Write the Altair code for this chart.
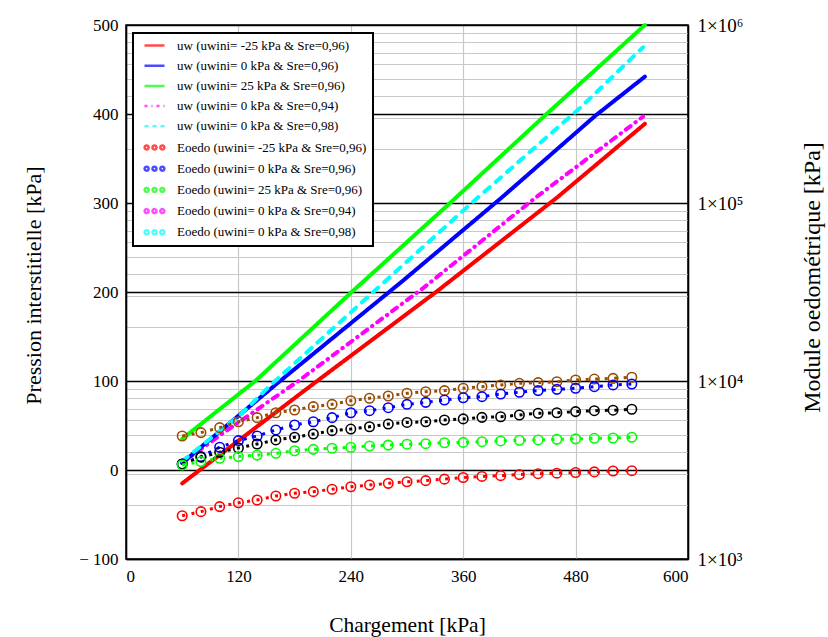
import altair as alt
import pandas as pd

# ---------------- data ----------------
LEGEND_LABELS = [
    "uw (uwini= -25 kPa & Sre=0,96)",
    "uw (uwini= 0 kPa & Sre=0,96)",
    "uw (uwini= 25 kPa & Sre=0,96)",
    "uw (uwini= 0 kPa & Sre=0,94)",
    "uw (uwini= 0 kPa & Sre=0,98)",
    "Eoedo (uwini= -25 kPa & Sre=0,96)",
    "Eoedo (uwini= 0 kPa & Sre=0,96)",
    "Eoedo (uwini= 25 kPa & Sre=0,96)",
    "Eoedo (uwini= 0 kPa & Sre=0,94)",
    "Eoedo (uwini= 0 kPa & Sre=0,98)",
]
LEGEND_COLORS = ["#ff0000", "#0000ff", "#00ff00", "#ff00ff", "#00ffff",
                 "#ff0000", "#0000ff", "#00ff00", "#ff00ff", "#00ffff"]

# pore pressure uw [kPa] vs loading [kPa]
UW_RED_X = [60, 204, 331, 460, 554]
UW_RED_Y = [-15, 100, 200, 306, 389]
UW_BLUE_X = [60, 161, 296, 401, 501, 554]
UW_BLUE_Y = [8, 97, 213, 306, 398, 442]
UW_GREEN_X = [60, 138, 241, 346, 449, 554]
UW_GREEN_Y = [35, 100, 200, 300, 400, 500]
UW_MAGENTA_X = [60, 103, 184, 318, 436, 552]
UW_MAGENTA_Y = [8, 41, 100, 205, 305, 397]
UW_CYAN_X = [60, 122, 155, 264, 369, 485, 552]
UW_CYAN_Y = [10, 62, 96, 200, 300, 407, 475]

# oedometric modulus Eoedo [kPa] vs loading [kPa]
E_X = [60, 80, 100, 120, 140, 160, 180, 200, 220, 240, 260, 280, 300,
       320, 340, 360, 380, 400, 420, 440, 460, 480, 500, 520, 540]
E_BROWN = [4910, 5130, 5470, 5900, 6225, 6635, 6870, 7180, 7395, 7745, 8000, 8240, 8530,
           8710, 8830, 9100, 9290, 9505, 9705, 9795, 9910, 10140, 10255, 10350, 10495]
E_BLUE = [3420, 3760, 4245, 4625, 4910, 5310, 5660, 5900, 6225, 6635, 6810, 7080, 7395,
          7585, 7815, 8055, 8165, 8455, 8650, 8830, 8975, 9100, 9290, 9505, 9615]
E_BLACK = [3420, 3735, 3980, 4205, 4425, 4665, 4830, 5035, 5260, 5370, 5535, 5730, 5850,
           5900, 6040, 6125, 6250, 6295, 6440, 6590, 6635, 6730, 6810, 6855, 6935]
E_GREEN = [3375, 3525, 3680, 3760, 3835, 3925, 4055, 4130, 4190, 4245, 4315, 4365, 4415,
           4445, 4500, 4520, 4560, 4605, 4645, 4665, 4700, 4730, 4765, 4785, 4830]
E_RED = [1750, 1845, 1970, 2070, 2145, 2260, 2340, 2390, 2465, 2545, 2605, 2660, 2715,
         2755, 2810, 2870, 2910, 2940, 2980, 3015, 3035, 3060, 3085, 3120, 3135]

X_TICKS = [0, 120, 240, 360, 480, 600]
Y_TICKS = [-100, 0, 100, 200, 300, 400, 500]
E_GRID = [1000, 2000, 3000, 4000, 5000, 6000, 7000, 8000, 9000,
          10000, 20000, 30000, 40000, 50000, 60000, 70000, 80000, 90000,
          100000, 200000, 300000, 400000, 500000, 600000, 700000, 800000, 900000, 1000000]

FONT = "Liberation Serif"

# ---------------- scales / axes ----------------
x_enc = alt.X(
    "x:Q",
    scale=alt.Scale(domain=[0, 600], nice=False, zero=False),
    axis=alt.Axis(values=X_TICKS, title="Chargement [kPa]", grid=True,
                  gridColor="#c8c8c8", gridWidth=1.2, ticks=False, titleFontSize=21.5,
                  labelPadding=9, titleX=281, titleY=66, titleBaseline="middle"),
)

left_axis = alt.Axis(
    values=Y_TICKS, title="Pression interstitielle [kPa]", grid=True,
    gridColor="black", gridWidth=1.3, ticks=False, labelPadding=8, titleFontSize=22,
    labelExpr="datum.value < 0 ? '\u2212 ' + abs(datum.value) : datum.label",
    titleX=-93, titleY=260, titleAngle=270, titleBaseline="middle",
)
y_left_scale = alt.Scale(domain=[-100, 500], nice=False, zero=False)

right_axis = alt.Axis(
    orient="right", values=E_GRID, title="Module oedométrique [kPa]", grid=True,
    gridColor={"condition": {"test": "abs(log(datum.value)/LN10 - round(log(datum.value)/LN10)) < 0.001",
                             "value": "black"}, "value": "#c8c8c8"},
    gridWidth=1.2, ticks=False, labelPadding=9, labelFontSize=19, titleFontSize=24,
    labelExpr="abs(log(datum.value)/LN10 - round(log(datum.value)/LN10)) < 0.001 ? "
              "'1\u00d710' + ['\u2070','\u00b9','\u00b2','\u00b3','\u2074','\u2075','\u2076'][round(log(datum.value)/LN10)] : ''",
    titleX=124, titleY=252, titleAngle=270, titleBaseline="middle",
)
y_right_scale = alt.Scale(type="log", domain=[1000, 1000000], nice=False)

# ---------------- uw lines ----------------
def uw_layer(xs, ys, color, dash):
    df = pd.DataFrame({"x": xs, "y": ys})
    return alt.Chart(df).mark_line(color=color, strokeWidth=4, strokeDash=dash,
                                   strokeCap="round").encode(
        x=x_enc, y=alt.Y("y:Q", scale=y_left_scale, axis=left_axis))

uw_layers = [
    uw_layer(UW_RED_X, UW_RED_Y, "#ff0000", [1, 0]),
    uw_layer(UW_MAGENTA_X, UW_MAGENTA_Y, "#ff00ff", [6, 6, 0.5, 6]),
    uw_layer(UW_BLUE_X, UW_BLUE_Y, "#0000ff", [1, 0]),
    uw_layer(UW_CYAN_X, UW_CYAN_Y, "#00ffff", [7, 8]),
    uw_layer(UW_GREEN_X, UW_GREEN_Y, "#00ff00", [1, 0]),
]

# legend-only layer (no rows drawn)
THREE_CIRCLES = ("M -1.17,0 A 0.4,0.4 0 1,1 -1.97,0 A 0.4,0.4 0 1,1 -1.17,0 Z "
                 "M 0.4,0 A 0.4,0.4 0 1,1 -0.4,0 A 0.4,0.4 0 1,1 0.4,0 Z "
                 "M 1.97,0 A 0.4,0.4 0 1,1 1.17,0 A 0.4,0.4 0 1,1 1.97,0 Z")
LINE_SYM = "M -2,0 L 2,0"
legend_df = pd.DataFrame({"series": LEGEND_LABELS})
legend_layer = alt.Chart(legend_df).mark_point(filled=False, size=58).encode(
    color=alt.Color("series:N", title=None,
                    scale=alt.Scale(domain=LEGEND_LABELS, range=LEGEND_COLORS)),
    shape=alt.Shape("series:N", title=None,
                    scale=alt.Scale(domain=LEGEND_LABELS,
                                    range=[LINE_SYM] * 5 + [THREE_CIRCLES] * 5)),
    strokeDash=alt.StrokeDash("series:N", title=None,
                              scale=alt.Scale(domain=LEGEND_LABELS,
                                              range=[[1, 0], [1, 0], [1, 0], [3, 4, 1, 4], [4, 4],
                                                     [1, 0], [1, 0], [1, 0], [1, 0], [1, 0]])),
    strokeWidth=alt.StrokeWidth("series:N", title=None,
                                scale=alt.Scale(domain=LEGEND_LABELS,
                                                range=[2.5] * 5 + [1.1] * 5)),
).transform_filter("false")

uw_group = alt.layer(*uw_layers, legend_layer)

# ---------------- Eoedo points ----------------
E_SERIES = [("brown", "#9a4b00", E_BROWN), ("blue", "#0000ff", E_BLUE),
            ("black", "#000000", E_BLACK), ("green", "#00ff00", E_GREEN),
            ("red", "#ff0000", E_RED)]
rows = []
for name, col, vals in E_SERIES:
    for xv, ev in zip(E_X, vals):
        rows.append({"name": name, "col": col, "x": xv, "E": ev})
e_df = pd.DataFrame(rows)

y_e = alt.Y("E:Q", scale=y_right_scale, axis=right_axis)
e_lines = alt.Chart(e_df).mark_line(strokeWidth=3, strokeDash=[3, 6.5]).encode(
    x=x_enc, y=y_e, detail="name:N", stroke=alt.Stroke("col:N", scale=None))
e_points = alt.Chart(e_df).mark_point(shape="circle", filled=False, size=90,
                                      strokeWidth=1.6, opacity=1).encode(
    x=x_enc, y=y_e, stroke=alt.Stroke("col:N", scale=None))
e_group = alt.layer(e_lines, e_points)

chart = alt.layer(uw_group, e_group).resolve_scale(y="independent").properties(
    width=562, height=534,
    autosize=alt.AutoSizeParams(type="none"),
    padding={"left": 126, "top": 25, "right": 140, "bottom": 78},
).configure_view(stroke="black", strokeWidth=1.6).configure_axis(
    labelFont=FONT, titleFont=FONT, labelFontSize=17, titleFontSize=20,
    titleFontWeight="normal", labelColor="black", titleColor="black",
    domainColor="black", domainWidth=1.6,
).configure_legend(
    orient="none", legendX=7, legendY=8, labelFont=FONT, labelFontSize=13,
    labelColor="black", labelLimit=400, fillColor="white", strokeColor="black",
    strokeWidth=2, padding=6, rowPadding=6.2, labelOffset=16, symbolOffset=9,
)

chart.save("out.html", embed_options={"renderer": "svg", "actions": False})
